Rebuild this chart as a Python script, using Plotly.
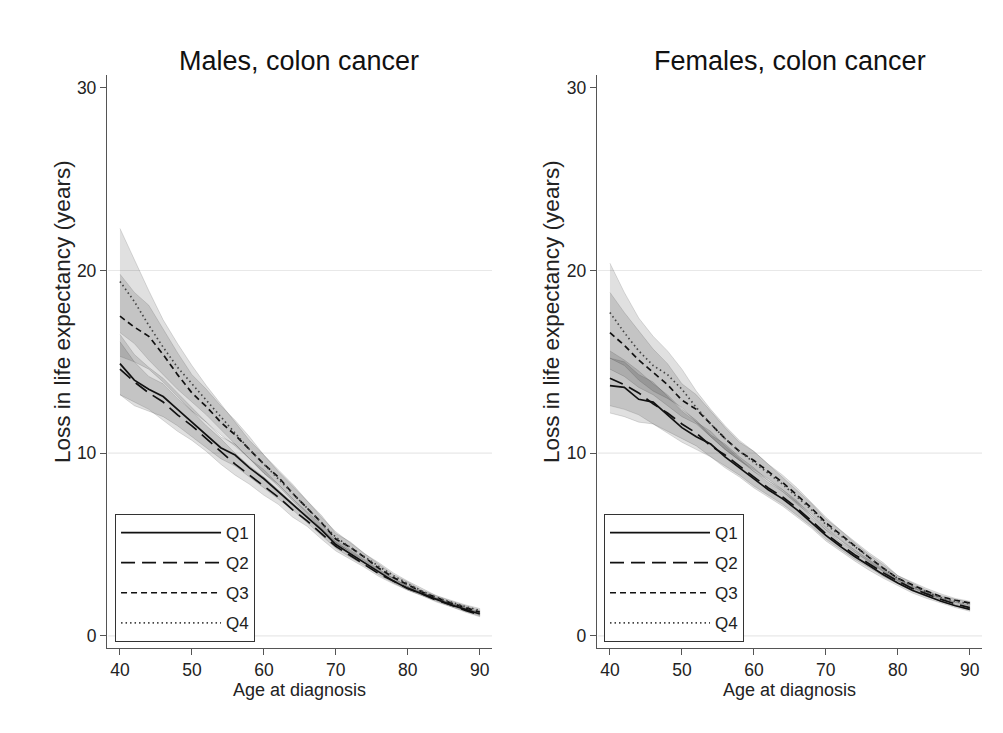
import plotly.graph_objects as go

ages = [40, 42, 44, 46, 48, 50, 52, 54, 56, 58, 60, 62, 64, 66, 68, 70, 72, 74, 76, 78, 80, 82, 84, 86, 88, 90]
quartiles = ["Q1", "Q2", "Q3", "Q4"]
x_ticks = [40, 50, 60, 70, 80, 90]
y_ticks = [0, 10, 20, 30]
grid_vals = [0, 10, 20]
panel_titles = ["Males, colon cancer", "Females, colon cancer"]
x_title = "Age at diagnosis"
y_title = "Loss in life expectancy (years)"

# Males
m_q1 = [14.9, 14.0, 13.5, 13.1, 12.4, 11.7, 11.0, 10.3, 9.9, 9.2, 8.6, 7.9, 7.2, 6.5, 5.8, 5.0, 4.5, 4.0, 3.5, 3.0, 2.6, 2.3, 2.0, 1.7, 1.45, 1.2]
m_q2 = [14.6, 13.9, 13.3, 12.8, 12.1, 11.5, 10.8, 10.1, 9.4, 8.8, 8.2, 7.6, 6.9, 6.3, 5.6, 4.9, 4.4, 3.9, 3.4, 3.0, 2.6, 2.3, 1.95, 1.7, 1.4, 1.15]
m_q3 = [17.5, 16.9, 16.4, 15.4, 14.3, 13.3, 12.55, 11.7, 11.0, 10.2, 9.4, 8.7, 7.8, 7.0, 6.2, 5.3, 4.85, 4.3, 3.7, 3.2, 2.8, 2.4, 2.1, 1.8, 1.55, 1.3]
m_q4 = [19.4, 18.3, 17.0, 15.8, 14.7, 13.8, 12.9, 12.0, 11.1, 10.2, 9.4, 8.6, 7.8, 7.0, 6.2, 5.4, 4.85, 4.3, 3.8, 3.3, 2.85, 2.45, 2.1, 1.85, 1.6, 1.4]
m_q1_lo = [13.2, 12.6, 12.3, 12.0, 11.5, 10.9, 10.3, 9.7, 9.3, 8.7, 8.1, 7.5, 6.9, 6.2, 5.5, 4.8, 4.3, 3.85, 3.35, 2.9, 2.5, 2.2, 1.9, 1.6, 1.35, 1.1]
m_q1_hi = [16.5, 15.4, 14.7, 14.1, 13.3, 12.5, 11.7, 10.9, 10.5, 9.7, 9.1, 8.3, 7.5, 6.8, 6.1, 5.25, 4.7, 4.15, 3.65, 3.15, 2.7, 2.4, 2.1, 1.8, 1.55, 1.3]
m_q2_lo = [13.2, 12.8, 12.4, 11.8, 11.2, 10.7, 10.1, 9.4, 8.8, 8.3, 7.7, 7.2, 6.5, 6.0, 5.3, 4.65, 4.2, 3.75, 3.25, 2.85, 2.5, 2.2, 1.85, 1.6, 1.3, 1.05]
m_q2_hi = [16.1, 15.0, 14.2, 13.8, 13.0, 12.3, 11.5, 10.8, 10.0, 9.3, 8.7, 8.0, 7.3, 6.6, 5.9, 5.15, 4.6, 4.05, 3.55, 3.15, 2.7, 2.4, 2.05, 1.8, 1.5, 1.25]
m_q3_lo = [15.3, 15.0, 14.6, 13.9, 13.1, 12.3, 11.7, 11.0, 10.4, 9.7, 8.9, 8.3, 7.5, 6.7, 5.9, 5.05, 4.65, 4.1, 3.55, 3.05, 2.65, 2.3, 2.0, 1.7, 1.45, 1.2]
m_q3_hi = [19.8, 18.8, 18.1, 16.8, 15.5, 14.3, 13.5, 12.6, 11.8, 10.9, 9.9, 9.1, 8.3, 7.4, 6.6, 5.6, 5.15, 4.5, 3.9, 3.35, 2.95, 2.5, 2.2, 1.9, 1.65, 1.4]
m_q4_lo = [16.6, 16.0, 15.1, 14.3, 13.5, 12.8, 12.1, 11.3, 10.5, 9.7, 8.9, 8.2, 7.4, 6.6, 5.9, 5.1, 4.6, 4.1, 3.6, 3.15, 2.7, 2.3, 2.0, 1.75, 1.5, 1.3]
m_q4_hi = [22.3, 20.6, 18.9, 17.3, 16.0, 14.8, 13.7, 12.7, 11.7, 10.7, 9.9, 9.0, 8.2, 7.4, 6.5, 5.7, 5.1, 4.5, 4.0, 3.45, 3.0, 2.6, 2.2, 1.95, 1.7, 1.5]

# Females
f_q1 = [13.7, 13.6, 12.95, 12.8, 12.1, 11.4, 10.9, 10.5, 9.8, 9.2, 8.55, 8.0, 7.5, 6.9, 6.2, 5.5, 4.9, 4.35, 3.85, 3.35, 2.9, 2.5, 2.2, 1.9, 1.65, 1.45]
f_q2 = [14.1, 13.75, 13.3, 12.7, 12.2, 11.6, 11.1, 10.4, 9.9, 9.3, 8.7, 8.1, 7.6, 7.0, 6.3, 5.6, 5.0, 4.45, 3.95, 3.45, 3.0, 2.6, 2.3, 2.0, 1.75, 1.55]
f_q3 = [16.6, 15.9, 15.1, 14.4, 13.75, 12.9, 12.4, 11.6, 10.8, 10.1, 9.6, 9.0, 8.4, 7.7, 7.0, 6.2, 5.55, 4.9, 4.3, 3.7, 3.15, 2.8, 2.45, 2.15, 1.95, 1.8]
f_q4 = [17.7, 16.6, 15.6, 14.8, 14.3, 13.5, 12.5, 11.6, 10.8, 10.1, 9.5, 8.9, 8.3, 7.6, 6.9, 6.1, 5.5, 4.85, 4.25, 3.7, 3.15, 2.75, 2.4, 2.1, 1.9, 1.75]
f_q1_lo = [12.2, 12.0, 11.7, 11.6, 11.1, 10.6, 10.2, 9.8, 9.2, 8.7, 8.1, 7.6, 7.1, 6.5, 5.9, 5.2, 4.65, 4.1, 3.6, 3.15, 2.75, 2.35, 2.05, 1.8, 1.55, 1.35]
f_q1_hi = [15.2, 15.0, 14.3, 13.9, 13.1, 12.3, 11.7, 11.2, 10.4, 9.7, 9.0, 8.4, 7.9, 7.3, 6.5, 5.8, 5.15, 4.6, 4.1, 3.55, 3.05, 2.65, 2.35, 2.0, 1.75, 1.55]
f_q2_lo = [12.6, 12.4, 12.1, 11.6, 11.2, 10.8, 10.4, 9.8, 9.3, 8.8, 8.2, 7.7, 7.2, 6.6, 6.0, 5.3, 4.75, 4.2, 3.75, 3.25, 2.85, 2.45, 2.15, 1.9, 1.65, 1.45]
f_q2_hi = [15.6, 15.1, 14.5, 13.8, 13.2, 12.4, 11.8, 11.0, 10.5, 9.8, 9.2, 8.5, 8.0, 7.4, 6.6, 5.9, 5.25, 4.7, 4.15, 3.65, 3.15, 2.75, 2.45, 2.1, 1.85, 1.65]
f_q3_lo = [14.6, 14.2, 13.6, 13.2, 12.6, 12.0, 11.6, 10.9, 10.2, 9.6, 9.1, 8.6, 8.0, 7.3, 6.7, 5.95, 5.3, 4.7, 4.1, 3.55, 3.0, 2.65, 2.35, 2.05, 1.85, 1.7]
f_q3_hi = [18.8, 17.7, 16.7, 15.7, 14.9, 13.8, 13.2, 12.3, 11.4, 10.6, 10.1, 9.4, 8.8, 8.1, 7.3, 6.5, 5.8, 5.15, 4.55, 4.0, 3.3, 2.95, 2.6, 2.3, 2.05, 1.9]
f_q4_lo = [15.2, 14.8, 14.0, 13.4, 13.0, 12.5, 11.7, 10.9, 10.2, 9.6, 9.0, 8.5, 7.9, 7.2, 6.6, 5.8, 5.25, 4.6, 4.05, 3.5, 3.0, 2.6, 2.3, 2.0, 1.8, 1.65]
f_q4_hi = [20.4, 18.8, 17.4, 16.4, 15.6, 14.6, 13.4, 12.4, 11.5, 10.7, 10.1, 9.4, 8.7, 8.0, 7.25, 6.4, 5.8, 5.1, 4.45, 3.9, 3.3, 2.9, 2.5, 2.2, 2.0, 1.85]

panels = [
    dict(xa="x", ya="y", legend="legend",
         est=[m_q1, m_q2, m_q3, m_q4],
         lo=[m_q1_lo, m_q2_lo, m_q3_lo, m_q4_lo],
         hi=[m_q1_hi, m_q2_hi, m_q3_hi, m_q4_hi]),
    dict(xa="x2", ya="y2", legend="legend2",
         est=[f_q1, f_q2, f_q3, f_q4],
         lo=[f_q1_lo, f_q2_lo, f_q3_lo, f_q4_lo],
         hi=[f_q1_hi, f_q2_hi, f_q3_hi, f_q4_hi]),
]

dashes = ["solid", "14px,7px", "6px,4px", "1.5px,3px"]
line_cols = ["#111111", "#111111", "#111111", "#444444"]
FONT = "Liberation Sans, Arial, sans-serif"

fig = go.Figure()
for pi, p in enumerate(panels):
    for qi in range(4):
        fig.add_trace(go.Scatter(
            x=ages + ages[::-1], y=p["hi"][qi] + p["lo"][qi][::-1],
            fill="toself", fillcolor="rgba(0,0,0,0.12)",
            line=dict(color="rgba(0,0,0,0.16)", width=0.8),
            mode="lines", showlegend=False, hoverinfo="skip",
            xaxis=p["xa"], yaxis=p["ya"]))
    for qi in range(4):
        fig.add_trace(go.Scatter(
            x=ages, y=p["est"][qi], mode="lines", name=quartiles[qi],
            line=dict(color=line_cols[qi], width=1.7, dash=dashes[qi]),
            legend=p["legend"], legendgroup=f"p{pi}q{qi}",
            xaxis=p["xa"], yaxis=p["ya"]))

ax_common = dict(showline=True, linecolor="#555555", linewidth=1.3,
                 ticks="outside", ticklen=6, tickcolor="#555555", tickwidth=1.3,
                 showgrid=False, zeroline=False,
                 tickfont=dict(size=17.5, color="#222222", family=FONT))

xdom = [[0.1067, 0.4905], [0.5952, 0.9791]]
ydom = [0.116, 0.8977]

layout = dict(
    width=1003, height=733,
    margin=dict(l=0, r=0, t=0, b=0),
    paper_bgcolor="white", plot_bgcolor="white",
    font=dict(family=FONT, color="#222222"),
    showlegend=True,
)
for i, (xk, yk) in enumerate([("xaxis", "yaxis"), ("xaxis2", "yaxis2")]):
    xa_id = "x" if i == 0 else "x2"
    ya_id = "y" if i == 0 else "y2"
    layout[xk] = dict(ax_common, domain=xdom[i], range=[38.2, 91.7], tickvals=x_ticks,
                      anchor=ya_id,
                      title=dict(text=x_title, font=dict(size=18, family=FONT, color="#222222"), standoff=2))
    layout[yk] = dict(ax_common, domain=ydom, range=[-0.66, 30.7], tickvals=y_ticks,
                      anchor=xa_id)

leg_common = dict(bgcolor="white", bordercolor="#333333", borderwidth=1,
                  font=dict(size=17, family=FONT, color="#222222"),
                  itemwidth=100, tracegroupgap=5, traceorder="grouped",
                  xanchor="left", yanchor="top", y=1 - 514 / 733)
layout["legend"] = dict(leg_common, x=0.1147)
layout["legend2"] = dict(leg_common, x=0.6022)

fig.update_layout(**layout)

shapes = []
for i in range(2):
    xa_id = "x" if i == 0 else "x2"
    ya_id = "y" if i == 0 else "y2"
    for g in grid_vals:
        shapes.append(dict(type="line", xref=f"{xa_id} domain", yref=ya_id,
                           x0=0.003, x1=1, y0=g, y1=g, layer="below",
                           line=dict(color="#e8e8e8", width=1.2)))
fig.update_layout(shapes=shapes)

for i, t in enumerate(panel_titles):
    fig.add_annotation(text=t, xref="paper", yref="paper",
                       x=sum(xdom[i]) / 2, y=1 - 61 / 733, xanchor="center", yanchor="middle",
                       showarrow=False, font=dict(size=27, family=FONT, color="#111111"))

y_title_x = [62 / 1003, 551 / 1003]
for i in range(2):
    fig.add_annotation(text=y_title, xref="paper", yref="paper", textangle=-90,
                       x=y_title_x[i], y=1 - 312 / 733, xanchor="center", yanchor="middle",
                       showarrow=False, font=dict(size=22.5, family=FONT, color="#222222"))

fig.write_html("out.html", config={"displayModeBar": False},
               post_script="document.body.style.margin='0';")
